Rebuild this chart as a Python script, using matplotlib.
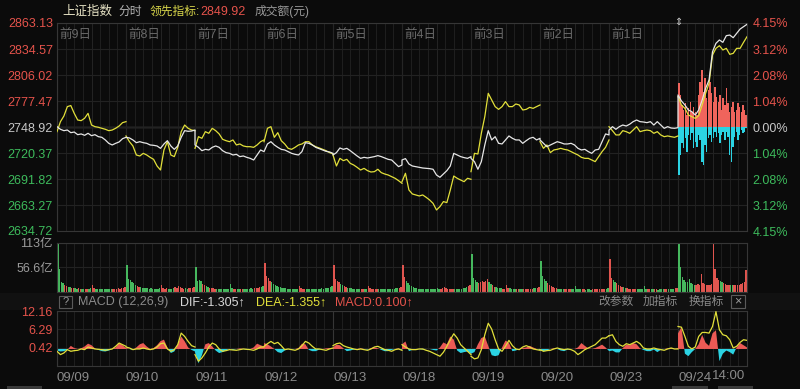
import numpy as np
import matplotlib
matplotlib.use('Agg')
import matplotlib.pyplot as plt
import matplotlib.transforms as mtrans
from matplotlib.patches import Rectangle

plt.rcParams['font.family'] = ['Liberation Sans', 'Noto Sans CJK SC', 'DejaVu Sans']

# trading days shown, oldest first
days = ['09/09', '09/10', '09/11', '09/12', '09/13', '09/18', '09/19', '09/20', '09/23', '09/24']
day_tags = ['前9日', '前8日', '前7日', '前6日', '前5日', '前4日', '前3日', '前2日', '前1日', '']

# 上证指数 (white), 21 samples per day
index_px = [
    2749.3, 2746.4, 2744.9, 2745.6, 2742.7, 2743.4, 2740.5, 2741.3, 2739.8, 2742.0, 2739.4, 2740.5, 2738.3, 2737.6, 2734.7, 2731.0, 2729.2, 2731.0, 2732.5, 2736.1, 2737.6,
    2737.6, 2736.9, 2734.7, 2731.7, 2732.8, 2731.7, 2731.0, 2729.2, 2728.8, 2728.1, 2725.5, 2730.3, 2733.9, 2728.1, 2724.4, 2728.1, 2737.6, 2744.9, 2744.2, 2744.5, 2745.6,
    2729.2, 2726.6, 2722.9, 2724.4, 2723.7, 2726.6, 2728.1, 2726.6, 2722.9, 2720.8, 2720.0, 2718.2, 2718.9, 2716.4, 2717.1, 2715.6, 2714.5, 2712.7, 2718.2, 2723.7, 2721.9,
    2721.9, 2730.3, 2732.8, 2729.2, 2726.6, 2724.4, 2723.7, 2721.9, 2720.0, 2718.9, 2718.2, 2721.9, 2731.7, 2731.0, 2729.2, 2726.6, 2725.1, 2723.7, 2722.2, 2721.5, 2720.0,
    2718.2, 2720.8, 2725.9, 2724.4, 2725.5, 2722.9, 2720.0, 2717.1, 2714.5, 2715.6, 2714.9, 2715.6, 2716.4, 2717.5, 2716.4, 2714.9, 2713.4, 2712.7, 2709.0, 2705.4, 2707.2,
    2712.7, 2714.2, 2708.3, 2706.1, 2705.4, 2704.6, 2703.9, 2703.5, 2703.2, 2702.5, 2696.2, 2693.7, 2697.3, 2701.0, 2706.1, 2720.0, 2718.2, 2716.4, 2715.3, 2714.5, 2716.4,
    2714.5, 2710.9, 2702.5, 2710.9, 2729.2, 2744.9, 2734.7, 2738.3, 2731.0, 2730.3, 2734.7, 2739.1, 2736.5, 2734.7, 2734.7, 2731.0, 2733.9, 2736.5, 2737.6, 2734.7, 2736.5,
    2734.7, 2731.0, 2727.3, 2729.2, 2731.0, 2732.8, 2731.7, 2730.3, 2730.3, 2731.0, 2729.2, 2725.5, 2723.7, 2724.4, 2721.9, 2720.0, 2723.7, 2724.4, 2732.8, 2741.3, 2740.2,
    2745.6, 2749.3, 2746.4, 2749.3, 2751.1, 2750.0, 2752.0, 2754.8, 2756.6, 2754.8, 2754.4, 2753.7, 2754.8, 2751.1, 2754.8, 2751.1, 2747.5, 2749.3, 2747.8, 2747.5, 2748.2,
    2784.1, 2777.5, 2773.1, 2767.6, 2765.8, 2762.1, 2767.6, 2778.6, 2791.4, 2800.5, 2831.6, 2840.8, 2844.5, 2841.9, 2849.2, 2849.9, 2847.0, 2851.8, 2856.5, 2859.1, 2861.7,
]

# 领先指标 (yellow), 21 samples per day
lead_px = [
    2743.8, 2754.8, 2761.0, 2771.3, 2772.5, 2763.9, 2756.6, 2755.9, 2758.5, 2763.9, 2751.1, 2749.3, 2748.6, 2747.5, 2746.4, 2744.9, 2745.6, 2747.5, 2750.0, 2753.7, 2754.8,
    2739.1, 2732.8, 2728.1, 2718.2, 2717.1, 2720.0, 2718.2, 2715.6, 2713.4, 2706.1, 2701.7, 2723.7, 2732.8, 2718.2, 2716.4, 2726.6, 2743.8, 2751.1, 2747.5, 2745.6, 2744.9,
    2725.5, 2738.3, 2736.5, 2743.8, 2742.0, 2747.5, 2744.9, 2741.3, 2735.4, 2733.9, 2732.8, 2734.7, 2729.2, 2730.3, 2728.1, 2727.3, 2727.3, 2726.6, 2729.2, 2732.8, 2734.7,
    2732.8, 2747.5, 2749.3, 2737.6, 2742.7, 2733.9, 2730.3, 2725.5, 2724.4, 2726.6, 2729.2, 2730.3, 2732.8, 2732.8, 2729.2, 2727.3, 2725.9, 2724.4, 2722.9, 2720.8, 2719.3,
    2718.2, 2706.1, 2714.5, 2712.0, 2713.4, 2709.0, 2707.2, 2704.6, 2701.7, 2703.5, 2701.0, 2699.5, 2699.9, 2702.5, 2698.8, 2697.3, 2696.2, 2694.4, 2692.6, 2690.0, 2687.1,
    2688.9, 2698.1, 2679.8, 2675.4, 2674.3, 2673.2, 2674.3, 2671.7, 2668.8, 2665.1, 2657.8, 2661.5, 2667.0, 2665.9, 2679.8, 2695.1, 2692.6, 2690.7, 2688.9, 2692.6, 2691.5,
    2699.9, 2720.0, 2719.3, 2742.0, 2760.3, 2785.9, 2778.6, 2771.3, 2768.3, 2771.3, 2776.8, 2771.3, 2771.3, 2774.2, 2773.1, 2767.6, 2768.3, 2770.5, 2769.4, 2771.3, 2773.1,
    2732.8, 2725.5, 2729.2, 2720.8, 2723.7, 2724.4, 2725.5, 2724.4, 2723.7, 2721.9, 2720.0, 2718.2, 2715.6, 2714.5, 2714.5, 2712.7, 2710.9, 2716.4, 2721.9, 2726.6, 2734.7,
    2749.3, 2744.9, 2740.2, 2740.2, 2744.9, 2743.8, 2742.0, 2745.6, 2749.3, 2743.8, 2744.9, 2745.6, 2744.9, 2742.0, 2743.8, 2740.2, 2738.3, 2739.1, 2738.3, 2737.6, 2739.1,
    2782.2, 2773.1, 2769.4, 2762.1, 2760.3, 2758.4, 2761.4, 2773.1, 2785.9, 2796.9, 2828.0, 2835.3, 2838.2, 2833.5, 2835.3, 2828.7, 2829.8, 2835.3, 2835.3, 2841.9, 2848.1,
]

# today's 领先指标 strength bars, in % of previous close
lead_up = [1.75, 1.28, 0.88, 0.68, 0.95, 0.48, 0.75, 1.01, 0.61, 0.81, 0.61, 0.48, 1.28, 1.81, 2.28, 1.41, 1.95, 1.15, 1.48, 1.81, 1.35,
           1.01, 1.61, 1.21, 1.01, 1.28, 0.68, 1.15, 0.88, 1.55, 0.95, 0.61, 0.81, 1.01, 0.61, 0.68, 0.95, 0.81, 0.61, 0.88, 0.68, 0.48]
lead_dn = [1.92, 1.12, 0.65, 0.85, 0.45, 0.99, 0.32, 0.52, 0.25, 0.85, 0.59, 0.79, 0.32, 0.52, 1.39, 1.52, 0.72, 0.99, 0.45, 0.32, 0.59,
           0.45, 0.19, 0.39, 0.25, 0.65, 0.32, 0.19, 0.52, 0.19, 0.39, 1.12, 1.39, 0.79, 0.39, 0.19, 0.52, 0.32, 0.12, 0.25, 0.19, 0.05]

# 成交额 (亿元), 40 bars per day
volume = [
    113, 53, 24, 20, 16, 14, 12, 11, 10, 9, 9, 8, 10, 8, 7, 8, 7, 8, 7, 9, 16, 10, 8, 7, 7, 6, 7, 6, 8, 7, 6, 7, 8, 7, 8, 9, 8, 10, 9, 12,
    63, 30, 28, 24, 20, 16, 13, 12, 11, 10, 9, 10, 9, 8, 9, 8, 7, 8, 8, 9, 15, 10, 8, 9, 8, 7, 8, 9, 12, 10, 14, 12, 9, 8, 9, 8, 9, 10, 9, 11,
    58, 26, 27, 25, 18, 16, 13, 11, 10, 9, 9, 8, 8, 7, 8, 7, 8, 7, 7, 8, 18, 9, 8, 7, 7, 8, 7, 7, 8, 7, 8, 8, 9, 8, 9, 10, 10, 11, 12, 14,
    66, 38, 32, 26, 22, 18, 15, 13, 12, 11, 10, 9, 9, 8, 8, 7, 8, 7, 7, 8, 14, 9, 8, 7, 7, 7, 6, 7, 7, 8, 7, 8, 8, 9, 8, 9, 10, 10, 11, 13,
    63, 30, 26, 22, 18, 15, 13, 12, 10, 9, 9, 8, 8, 7, 8, 7, 7, 8, 7, 7, 14, 9, 8, 7, 7, 6, 7, 7, 6, 7, 7, 8, 7, 8, 8, 8, 9, 9, 10, 11,
    63, 34, 26, 20, 16, 13, 11, 10, 9, 8, 8, 7, 7, 7, 6, 7, 6, 6, 7, 7, 10, 8, 7, 9, 12, 10, 8, 7, 7, 6, 7, 7, 8, 7, 8, 9, 10, 11, 14, 16,
    87, 32, 28, 24, 20, 22, 26, 22, 25, 30, 22, 18, 15, 12, 11, 10, 9, 9, 8, 8, 16, 10, 9, 8, 8, 7, 8, 7, 7, 7, 8, 7, 7, 8, 7, 8, 9, 9, 10, 12,
    71, 38, 30, 26, 20, 16, 13, 11, 10, 9, 8, 8, 7, 7, 7, 6, 6, 7, 6, 6, 14, 8, 7, 6, 6, 6, 5, 6, 6, 5, 6, 6, 6, 7, 6, 7, 7, 8, 8, 10,
    77, 32, 28, 24, 20, 16, 14, 12, 11, 10, 9, 8, 8, 7, 7, 7, 6, 7, 6, 7, 13, 8, 7, 7, 6, 6, 6, 6, 5, 6, 6, 6, 7, 6, 7, 7, 8, 8, 9, 10,
    111, 58, 34, 28, 24, 22, 30, 20, 18, 17, 16, 18, 16, 42, 20, 18, 17, 16, 17, 18, 111, 54, 32, 28, 26, 22, 20, 18, 16, 17, 15, 16, 15, 16, 17, 16, 18, 20, 22, 50,
]

# MACD(12,26,9): DEA line and histogram, 21 samples per day
dea = [
    -0.74, -1.80, -1.27, -0.21, -0.74, -0.53, -0.42, 0, -0.21, 0.63, 0.32, 0, -0.11, -0.21, -0.42, -0.21, 0, 0.85, 1.90, 1.38, 0.85,
    0.63, 0.32, -0.21, 0, 0, 0.32, 0, -0.21, 0, 0.63, 1.69, 1.90, 0, -0.74, -0.21, 1.38, 5.08, 4.02, 2.43, 1.06, 0.63,
    -1.80, -3.92, -2.86, -1.27, 0.63, 1.90, 1.38, 0, -0.74, -0.53, -0.21, -0.32, -0.42, -0.21, 0, -0.11, -0.21, -0.42, 0, 0.63, 0.63,
    0.85, 1.69, 2.43, 1.69, 2.12, 1.06, -0.21, 0, -0.21, -0.42, 0, 1.06, 2.43, 1.90, 0.85, 0, 0, -0.21, -0.42, 0, 0.32,
    1.06, 1.69, 1.90, 1.06, 0.63, 0.32, 0, -0.21, 0, -0.21, -0.42, 0, 0.63, 0.85, 0.32, -0.21, -0.42, -0.74, -0.21, 0, -0.42,
    1.38, 0.63, 0, -0.21, -0.21, 0, 0, -0.42, -0.74, -1.27, -1.80, -2.33, -1.06, 0.85, 2.96, 4.87, 3.49, 1.38, 0.32, -0.74, -1.80,
    -2.33, -3.17, -2.86, -0.21, 4.55, 8.25, 6.35, 2.96, 0, -0.74, 0.85, 2.75, 1.06, 0, -0.21, 0.63, 1.06, 0.63, 0, -0.21, -0.42,
    -0.21, -0.74, -0.53, -0.42, 0, 0.32, 0, -0.21, 0, -0.21, -0.74, -1.80, -1.06, -0.21, 0.32, 0.85, 1.38, 2.43, 3.49, 3.49, 4.23,
    4.23, 4.55, 2.43, 1.38, 0.85, 1.69, 1.38, 1.90, 2.43, 1.69, 0.32, 0, 0, 0.32, 0, -0.21, -0.42, 0, 0.32, 0, 0,
    7.20, 6.98, 4.02, 0.85, 0, 0.63, 4.02, 5.29, 5.29, 5.08, 7.20, 11.96, 6.14, 4.55, 4.23, 2.96, 0.32, 0.85, 2.12, 2.96, 2.75,
]
macd_hist = [
    -0.5, -0.8, -0.7, -0.3, 1.0, 0.3, 0, 0.2, 0.8, 1.7, 1.2, 0.2, -0.3, -0.7, -0.8, -0.5, 0, 0.5, 1.9, 1.2, 0.3,
    0.3, 0, -0.3, 0.5, 1.5, 1.9, 0.8, 0, 0.3, 1.2, 2.5, 3.0, 0.5, -1.3, -0.8, 1.5, 4.0, 2.5, 0.5, -0.3, -0.8,
    -1.0, -4.6, -2.0, 1.5, 1.9, 0.8, -0.5, -1.3, -1.0, -0.4, 0, -0.3, 0, 0.2, 0, -0.2, 0, 0.5, 1.7, 1.2, 0.8,
    1.9, 1.5, 0.8, 0, -1.0, -1.3, -0.5, 0, -0.2, 0, 0.3, 1.7, 1.5, -0.3, -0.7, -0.7, -0.2, 0, 0.2, 0.3, 0.2,
    0.5, 1.4, 1.2, 0.2, -0.7, -0.5, -0.2, 0, 0.2, 0, -0.2, 0.3, 0.5, 0.2, -0.3, -0.7, -0.7, -0.3, 0, 0.2, -0.3,
    1.5, 2.4, -0.7, -0.3, 0, 0, -0.2, 0, 0, -0.3, -0.5, 0.5, 2.1, 1.5, 4.0, 3.0, -0.5, -1.3, -1.0, -0.8, -1.5,
    -1.5, -1.0, 1.5, 3.5, 4.0, 1.0, -2.0, -2.3, -2.0, 0.5, 2.7, 2.0, -0.7, -0.5, 0, 0.3, 0.5, 1.0, 0.5, 0, -0.2,
    -0.5, -0.7, -0.5, 0, 0.2, 0, -0.5, -0.7, -0.2, 0, 0, 0.5, 1.9, 1.0, 0.2, 0, 0.3, 0.8, 1.4, 0.5, -0.7,
    -0.7, -0.5, -1.1, -1.1, 0.3, 1.4, 1.2, 1.9, 1.5, 0.2, -0.3, -0.7, -0.7, -0.2, -1.0, -0.3, 0, 0.2, 0.3, 0, 0.2,
    5.0, 7.0, -1.5, -2.3, -1.0, 0, 1.5, 4.5, 2.0, 1.0, 5.0, 6.0, -3.9, -1.5, -0.5, -1.0, -1.8, 0.5, 1.9, 1.2, 0.5,
]

prev_close = 2748.92
price_ticks = [2863.13, 2834.57, 2806.02, 2777.47, 2748.92, 2720.37, 2691.82, 2663.27, 2634.72]
vol_ticks = [113, 56.6]
macd_ticks = [12.16, 6.29, 0.42]
macd_range = (-5.45, 12.16)

BG = '#0b0b0b'
GRID = '#222222'
GRID_DAY = '#363636'
RED = '#e5534b'
GREEN = '#3dbb5c'
CYAN = '#2bd3e3'
YELLOW = '#e2e03a'
TXT = '#8a8a8a'

n_days = len(days)
pts = len(index_px) // n_days
x_line = np.concatenate([d + np.linspace(0, 1, pts) for d in range(n_days)])
W, H = 800, 389


def box(l, t, r, b):
    return [l / W, 1 - b / H, (r - l) / W, (b - t) / H]


def style(a):
    a.set_facecolor(BG)
    a.set_xlim(0, n_days)
    for s in a.spines.values():
        s.set_color(GRID_DAY)
        s.set_linewidth(0.8)
    a.set_xticks(np.arange(0, n_days + 0.01, 1 / 8), minor=True)
    a.grid(True, which='minor', axis='x', color=GRID, lw=0.6)
    a.grid(True, which='major', axis='y', color=GRID, lw=0.8)
    a.tick_params(which='both', length=0, labelsize=9)
    for d in range(n_days):
        a.axvline(d, color=GRID_DAY, lw=0.8, zorder=1)
        a.axvline(d + 0.5, color='#2c2c2c', lw=0.7, zorder=1)


fig = plt.figure(figsize=(W / 100, H / 100), dpi=100, facecolor=BG)

# slightly lighter strip behind the MACD header
fig.add_artist(Rectangle((0, 1 - 310 / H), 1, 17 / H, transform=fig.transFigure,
                         color='#111111', lw=0, zorder=0))

ax = fig.add_axes(box(57, 23, 747, 231))
axv = fig.add_axes(box(57, 243, 747, 292))
axm = fig.add_axes(box(57, 311, 747, 366))

# ---- price panel ----
style(ax)
ax.set_ylim(price_ticks[-1], price_ticks[0])
ax.set_yticks(price_ticks)
ax.set_yticklabels([f'{p:.2f}' for p in price_ticks])
ax.set_xticks([])
ax.tick_params(axis='y', pad=3)
for lbl, p in zip(ax.get_yticklabels(), price_ticks):
    lbl.set_color(RED if p > prev_close + 0.01 else GREEN if p < prev_close - 0.01 else '#c8c8c8')
ax.axhline(prev_close, color='#555555', lw=1.0, zorder=1)

axr = ax.twinx()
axr.set_ylim(price_ticks[-1], price_ticks[0])
axr.set_yticks(price_ticks)
axr.set_yticklabels([f'{abs(p / prev_close - 1) * 100:.2f}%' for p in price_ticks])
axr.tick_params(length=0, labelsize=9, pad=4)
for s in axr.spines.values():
    s.set_visible(False)
for lbl, p in zip(axr.get_yticklabels(), price_ticks):
    lbl.set_color(RED if p > prev_close + 0.01 else GREEN if p < prev_close - 0.01 else '#c8c8c8')

# today's strength bars around the previous close
nb = len(lead_up)
xb = n_days - 1 + (np.arange(nb) + 0.5) / nb
ax.bar(xb, np.array(lead_up) / 100 * prev_close, bottom=prev_close, width=0.85 / nb,
       color='#f0645c', lw=0, zorder=2)
ax.bar(xb, -np.array(lead_dn) / 100 * prev_close, bottom=prev_close, width=0.85 / nb,
       color=CYAN, lw=0, zorder=2)

ax.plot(x_line, index_px, color='#e6e6e6', lw=0.9, zorder=4)
for d in range(n_days):
    seg = slice(d * pts, (d + 1) * pts)
    ax.plot(x_line[seg], lead_px[seg], color=YELLOW, lw=0.9, zorder=3)

for d, tag in enumerate(day_tags):
    ax.text(d + 0.04, 0.942, tag, transform=mtrans.blended_transform_factory(ax.transData, ax.transAxes),
            color='#6a6a6a', fontsize=9, va='center', ha='left')

# ---- volume panel ----
style(axv)
axv.set_ylim(0, vol_ticks[0])
axv.set_yticks(vol_ticks)
axv.set_yticklabels([f'{v:g}亿' for v in vol_ticks], color='#9a9a9a')
axv.set_xticks([])
axv.tick_params(axis='y', pad=3)
nv = len(volume) // n_days
vol_colors = []
for d in range(n_days):
    for i in range(nv):
        j = d * pts + min(i * (pts - 1) // nv, pts - 2)
        vol_colors.append('#e0554f' if index_px[j + 1] >= index_px[j] else '#46b85e')
xv = np.concatenate([d + (np.arange(nv) + 0.5) / nv for d in range(n_days)])
axv.bar(xv, volume, width=0.8 / nv, color=vol_colors, lw=0, zorder=2)

# ---- MACD panel ----
style(axm)
axm.set_ylim(*macd_range)
axm.set_yticks(macd_ticks)
axm.set_yticklabels([f'{v:.2f}' for v in macd_ticks], color=RED)
axm.tick_params(axis='y', pad=3)
hist = np.array(macd_hist)
for d in range(n_days):
    seg = slice(d * pts, (d + 1) * pts)
    xs, hs = x_line[seg], hist[seg]
    axm.fill_between(xs, 0, hs, where=hs > 0, interpolate=True, color='#ec5a55', lw=0, zorder=2)
    axm.fill_between(xs, 0, hs, where=hs < 0, interpolate=True, color=CYAN, lw=0, zorder=2)
    axm.plot(xs, np.array(dea)[seg], color=YELLOW, lw=0.9, zorder=3)
axm.set_xticks(range(n_days))
axm.set_xticklabels(days, color=TXT, fontsize=9.5, ha='left')
axm.tick_params(axis='x', pad=4)
axm.text(n_days - 0.03, -0.18, '14:00', transform=mtrans.blended_transform_factory(axm.transData, axm.transAxes),
         color=TXT, fontsize=9.5, ha='right', va='center')

# ---- header texts ----
def ftext(x, y, s, color, size=8.5, **kw):
    fig.text(x / W, 1 - y / H, s, color=color, fontsize=size, va='center', **kw)

ftext(62, 12, '上证指数', '#e6e2c4', 9)
ftext(118, 12, '分时', '#b4b4b4')
ftext(150, 12, '领先指标:', '#d8d64a')
ftext(200, 12, '2849.92', RED, 9)
ftext(255, 12, '成交额(元)', '#9a9a9a')
ftext(678, 22, '⇕', '#d0d0d0', 7, ha='center', family='DejaVu Sans')

fig.add_artist(Rectangle((59 / W, 1 - 308 / H), 13 / W, 12 / H, transform=fig.transFigure,
                         fill=False, ec='#5a5a5a', lw=0.8))
ftext(65.5, 302, '?', '#9a9a9a', 8, ha='center')
ftext(78, 302, 'MACD (12,26,9)', TXT, 9)
ftext(180, 302, 'DIF:-1.305↑', '#d8d8d8', 9)
ftext(256, 302, 'DEA:-1.355↑', YELLOW, 9)
ftext(335, 302, 'MACD:0.100↑', RED, 9)
ftext(598, 302, '改参数', TXT, 8.5)
ftext(643, 302, '加指标', TXT, 8.5)
ftext(689, 302, '换指标', TXT, 8.5)
fig.add_artist(Rectangle((731 / W, 1 - 308 / H), 14 / W, 13 / H, transform=fig.transFigure,
                         fill=False, ec='#5a5a5a', lw=0.8))
ftext(738, 301.5, '×', '#9a9a9a', 9, ha='center')

# scrollbar pieces along the bottom edge
for l, r in [(7, 42), (672, 708), (718, 753)]:
    fig.add_artist(Rectangle((l / W, 0), (r - l) / W, 3 / H, transform=fig.transFigure,
                             color='#3a3a3a', lw=0))

fig.savefig('out.png', dpi=100, facecolor=BG)
